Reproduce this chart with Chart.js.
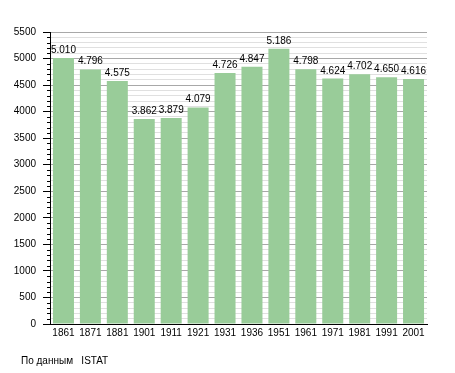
<!DOCTYPE html>
<html>
<head>
<meta charset="utf-8">
<style>
  body { margin: 0; background: #fff; }
  #wrap { position: relative; width: 455px; height: 373px; }
  #note { position: absolute; left: 21px; top: 355px; font: 10px "Liberation Sans", Arial, sans-serif; color: #000; white-space: pre; }
</style>
</head>
<body>
<div id="wrap">
  <canvas id="chart" width="455" height="373"></canvas>
  <div id="note">По данным   ISTAT</div>
</div>

<script src="https://cdn.jsdelivr.net/npm/chart.js"></script>
<script>
const years = ['1861', '1871', '1881', '1901', '1911', '1921', '1931', '1936', '1951', '1961', '1971', '1981', '1991', '2001'];
const population = [5010, 4796, 4575, 3862, 3879, 4079, 4726, 4847, 5186, 4798, 4624, 4702, 4650, 4616];

const FONT = '"Liberation Sans", Arial, sans-serif';

// 5010 -> "5.010"
function fmt(v) {
  return Math.floor(v / 1000) + '.' + String(v % 1000).padStart(3, '0');
}

const isMajor = v => v % 500 === 0;

// short tick marks for the minor (every 100) steps
const minorTicks = {
  id: 'minorTicks',
  afterDraw(chart) {
    const y = chart.scales.y;
    const ctx = chart.ctx;
    ctx.save();
    ctx.strokeStyle = '#000';
    ctx.lineWidth = 1;
    ctx.beginPath();
    y.ticks.forEach(t => {
      if (isMajor(t.value)) return;
      const py = Math.round(y.getPixelForValue(t.value)) + 0.5;
      ctx.moveTo(y.right - 3, py);
      ctx.lineTo(y.right, py);
    });
    ctx.stroke();
    ctx.restore();
  }
};

const valueLabels = {
  id: 'valueLabels',
  afterDatasetsDraw(chart) {
    const ctx = chart.ctx;
    const meta = chart.getDatasetMeta(0);
    ctx.save();
    ctx.font = '10px ' + FONT;
    ctx.fillStyle = '#000';
    ctx.textAlign = 'center';
    ctx.textBaseline = 'alphabetic';
    meta.data.forEach((bar, i) => {
      ctx.fillText(fmt(population[i]), bar.x, bar.y - 5);
    });
    ctx.restore();
  }
};

new Chart(document.getElementById('chart'), {
  type: 'bar',
  data: {
    labels: years,
    datasets: [{
      data: population,
      backgroundColor: '#99cc99',
      borderWidth: 0,
      barPercentage: 0.78,
      categoryPercentage: 1
    }]
  },
  options: {
    responsive: false,
    animation: false,
    layout: { padding: { left: 0, top: 32, right: 28, bottom: 29 } },
    plugins: {
      legend: { display: false },
      tooltip: { enabled: false }
    },
    scales: {
      x: {
        grid: { display: false, drawTicks: false },
        border: { color: '#000', width: 1 },
        ticks: {
          color: '#000',
          font: { size: 10, family: FONT },
          padding: 3,
          maxRotation: 0,
          autoSkip: false
        },
        afterFit(scale) { scale.height = 20; }
      },
      y: {
        min: 0,
        max: 5500,
        border: { color: '#000', width: 1 },
        grid: {
          color: c => (c.tick && isMajor(c.tick.value)) ? '#a8a8a8' : '#e0e0e0',
          tickColor: c => (c.tick && isMajor(c.tick.value)) ? '#000' : 'rgba(0,0,0,0)',
          tickLength: 7
        },
        ticks: {
          stepSize: 100,
          autoSkip: false,
          color: '#000',
          padding: 7,
          font: { size: 10, family: FONT },
          callback: v => (isMajor(v) ? String(v) : '')
        },
        afterFit(scale) { scale.width = 50; }
      }
    }
  },
  plugins: [valueLabels, minorTicks]
});
</script>
</body>
</html>
